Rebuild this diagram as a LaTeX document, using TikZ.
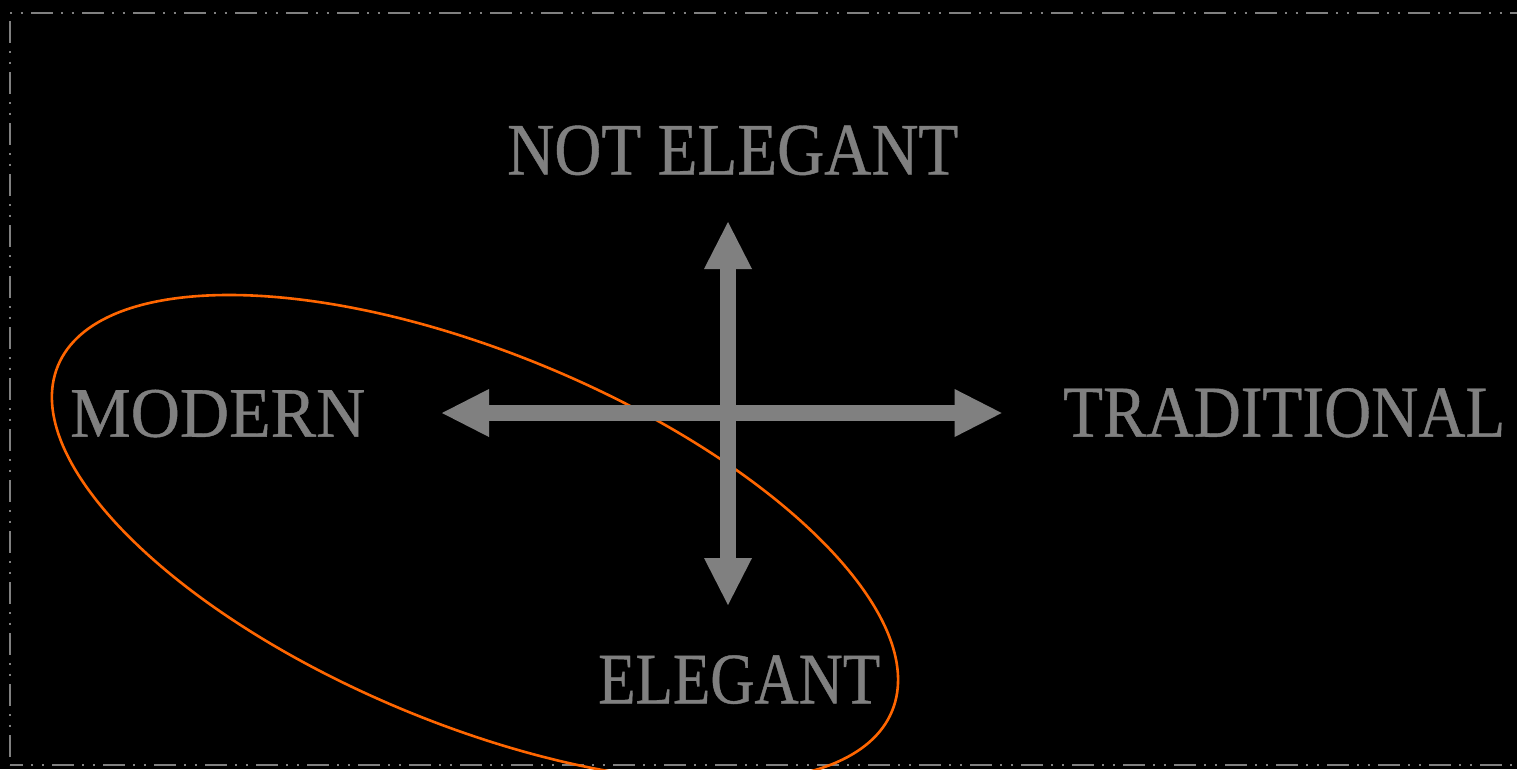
\documentclass[tikz,border=0pt]{standalone}
\usepackage{fontspec}
\setmainfont{Liberation Serif}
\newfontfamily\lblfont[FakeBold=0.6]{Liberation Serif}
\usepackage{graphicx}
\usetikzlibrary{arrows.meta}
\definecolor{txtgray}{RGB}{128,128,128}
\definecolor{ringorange}{RGB}{255,102,0}
\begin{document}
\begin{tikzpicture}[x=1pt,y=-1pt,
  lbl/.style={inner sep=0pt, text=txtgray, anchor=base west, font=\lblfont},
  axisarrow/.style={draw=txtgray, line width=16.5pt,
    {Triangle[length=47pt,width=48pt,line width=0pt]}-{Triangle[length=47pt,width=48pt,line width=0pt]}},
  borderline/.style={draw=txtgray, line width=2.3pt,
    dash pattern=on 2pt off 8.5pt on 2pt off 8.5pt on 21.5pt off 8.5pt},
  ring/.style={draw=ringorange, line width=2.6pt}]
\fill[black] (0,0) rectangle (1517,769);
\useasboundingbox (0,0) rectangle (1517,769);
\clip (0,0) rectangle (1517,769);
% border (right side lies outside the picture)
\coordinate (tl) at (10,13);
\coordinate (tr) at (1540,13);
\coordinate (bl) at (10,765);
\coordinate (br) at (1540,765);
\draw[borderline] (tl) -- (tr);
\draw[borderline, dash phase=13pt] (tl) -- (bl);
\draw[borderline, dash phase=29.7pt] (bl) -- (br);
% orange ellipse
\coordinate (ringc) at (475,538.5);
\draw[ring, rotate around={-22.5:(ringc)}] (ringc) ellipse [x radius=451.4, y radius=185.7];
% axes
\coordinate (west) at (442,413);
\coordinate (east) at (1001.6,413);
\coordinate (north) at (728,222);
\coordinate (south) at (728,605);
\draw[axisarrow] (west) -- (east);
\draw[axisarrow] (north) -- (south);
% labels
\node[lbl] (notelegant) at (507,174.5) {\resizebox{451pt}{49pt}{NOT ELEGANT}};
\node[lbl] (modern) at (70,436.7) {\resizebox{295pt}{47pt}{MODERN}};
\node[lbl] (traditional) at (1063,436.7) {\resizebox{442pt}{48.5pt}{TRADITIONAL}};
\node[lbl] (elegant) at (598,703.3) {\resizebox{282pt}{48pt}{ELEGANT}};
\end{tikzpicture}
\end{document}
